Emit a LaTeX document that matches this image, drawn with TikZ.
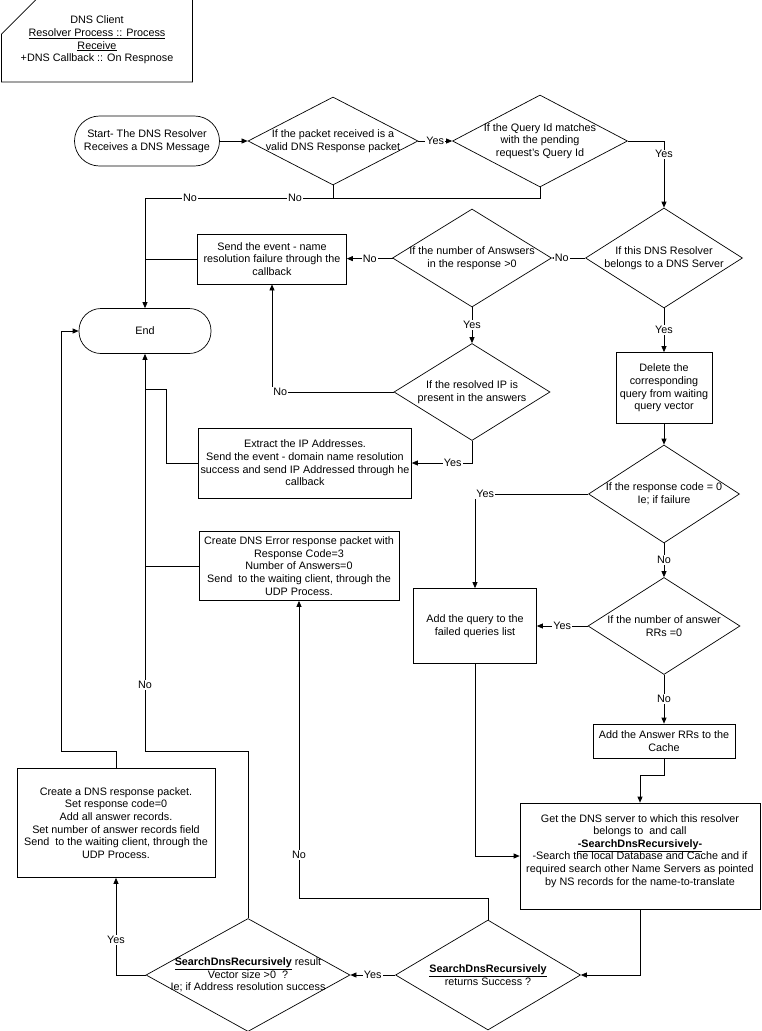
\documentclass[tikz,border=0pt]{standalone}
\usepackage{fontspec}
\setmainfont{Liberation Sans}
\usetikzlibrary{arrows.meta, shapes.geometric, shapes.misc}

\begin{document}
\begin{tikzpicture}[
    x=1pt, y=-1pt,
    font=\fontsize{10.8}{12.6}\selectfont,
    box/.style={rectangle, draw=black, line width=0.7pt, align=center, inner sep=2pt},
    terminal/.style={box, rounded corners=#1},
    decision/.style={diamond, draw=black, line width=0.7pt, align=center, inner sep=-30pt},
    note/.style={chamfered rectangle, chamfered rectangle corners=north west, chamfered rectangle sep=18pt, draw=black, line width=0.7pt, align=center, inner sep=0pt},
    line/.style={draw=black, line width=0.7pt},
    rel/.style={line, -{Triangle[length=6pt, width=5pt]}},
    lbl/.style={fill=white, inner sep=1pt}
]

\useasboundingbox (0,0) rectangle (761,1031);

% client note
\node[note, minimum width=191, minimum height=78] (client) at (97,40) {DNS Client\\\underline{Resolver Process :: Process}\\\underline{Receive}\\+DNS Callback :: On Respnose};

% start and end
\node[terminal=25, minimum width=145, minimum height=50] (start) at (147,141) {Start- The DNS Resolver\\Receives a DNS Message};
\node[terminal=22, minimum width=132, minimum height=45] (endterm) at (145,331) {End};

% decisions
\node[decision, minimum width=170, minimum height=88] (valid) at (333,141) {If the packet received is a\\valid DNS Response packet};
\node[decision, minimum width=175, minimum height=92] (qid) at (540,141) {If the Query Id matches\\with the pending\\request's Query Id};
\node[decision, minimum width=157, minimum height=100] (server) at (664,258) {If this DNS Resolver\\belongs to a DNS Server};
\node[decision, minimum width=159, minimum height=98] (answers) at (472,258) {If the number of Answsers\\in the response >0};
\node[decision, minimum width=156, minimum height=97] (present) at (472,392) {If the resolved IP is\\present in the answers};
\node[decision, minimum width=151, minimum height=98] (rcode) at (664,494) {If the response code = 0\\Ie; if failure};
\node[decision, minimum width=152, minimum height=97] (rrs) at (664,626) {If the number of answer\\RRs =0};
\node[decision, minimum width=185, minimum height=110] (success) at (488,975) {\underline{\textbf{SearchDnsRecursively}}\\returns Success ?};
\node[decision, minimum width=204, minimum height=113] (result) at (248,975) {\underline{\textbf{SearchDnsRecursively}} result\\Vector size >0~ ?\\Ie; if Address resolution success};

% process boxes
\node[box, minimum width=149, minimum height=50] (failbox) at (272,259) {Send the event - name\\resolution failure through the\\callback};
\node[box, minimum width=212, minimum height=70] (extract) at (305,463) {Extract the IP Addresses.\\Send the event - domain name resolution\\success and send IP Addressed through he\\callback};
\node[box, minimum width=96, minimum height=71] (delete) at (664,388) {Delete the\\corresponding\\query from waiting\\query vector};
\node[box, minimum width=123, minimum height=75] (failed) at (475,626) {Add the query to the\\failed queries list};
\node[box, minimum width=142, minimum height=34] (cache) at (664,741) {Add the Answer RRs to the\\Cache};
\node[box, minimum width=240, minimum height=106] (search) at (640,856) {Get the DNS server to which this resolver\\belongs to~ and call\\\underline{\textbf{-SearchDnsRecursively-}}\\-Search the local Database and Cache and if\\required search other Name Servers as pointed\\by NS records for the name-to-translate\\~};
\node[box, minimum width=200, minimum height=69] (errbox) at (299,566) {Create DNS Error response packet with\\Response Code=3\\Number of Answers=0\\Send~ to the waiting client, through the\\UDP Process.};
\node[box, minimum width=198, minimum height=109] (respbox) at (116,823) {Create a DNS response packet.\\Set response code=0\\Add all answer records.\\Set number of answer records field\\Send~ to the waiting client, through the\\UDP Process.};

% bends
\coordinate (nojoin) at (145,198);
\coordinate (xstep) at (166,389);
\coordinate (nbend) at (145,751);
\coordinate (ybend) at (61,751);
\coordinate (ebend) at (299,898);
\coordinate (cbend) at (640,775);

% main flow
\draw[rel] (start) -- (valid);
\draw[rel] (valid) -- node[lbl] {Yes} (qid);
\draw[rel] (qid.east) -| node[lbl, pos=0.6] {Yes} (server.north);
\draw[rel] (server) -- node[lbl, pos=0.7] {No} (answers);
\draw[rel] (answers) -- node[lbl] {No} (failbox);
\draw[rel] (answers) -- node[lbl] {Yes} (present);
\draw[rel] (present.west) -| node[lbl, anchor=west, pos=0.5] {No} (failbox.south);
\draw[rel] (present.south) |- node[lbl, pos=0.66] {Yes} (extract.east);
\draw[rel] (server) -- node[lbl] {Yes} (delete);
\draw[rel] (delete) -- (rcode);
\draw[rel] (rcode.west) -| node[lbl, anchor=west, pos=0.5] {Yes} (failed.north);
\draw[rel] (rcode) -- node[lbl] {No} (rrs);
\draw[rel] (rrs) -- node[lbl] {Yes} (failed);
\draw[rel] (rrs) -- node[lbl] {No} (cache);
\draw[rel] (cache.south) |- (cbend) -- (search.north);
\draw[rel] (failed.south) |- (search.west);
\draw[rel] (search.south) |- (success.east);
\draw[rel] (success) -- node[lbl] {Yes} (result);
\draw[rel] (result.west) -| node[lbl, pos=0.68] {Yes} (respbox.south);
\draw[rel] (success.north) |- (ebend) -- node[lbl, pos=0.145] {No} (errbox.south);

% paths into End
\draw[line] (valid.south) -- (valid.south |- nojoin);
\draw[rel] (qid.south) |- node[lbl, pos=0.81] {No} node[lbl, pos=0.943] {No} (nojoin) -- (endterm.north);
\draw[line] (failbox.west) -- (failbox.west -| endterm);
\draw[line] (extract.west) -| (xstep) -- (xstep -| endterm);
\draw[line] (errbox.west) -- (errbox.west -| endterm);
\draw[rel] (result.north) |- (nbend) -- node[lbl, pos=0.166] {No} (endterm.south);
\draw[rel] (respbox.north) |- (ybend) |- (endterm.west);

\end{tikzpicture}
\end{document}
